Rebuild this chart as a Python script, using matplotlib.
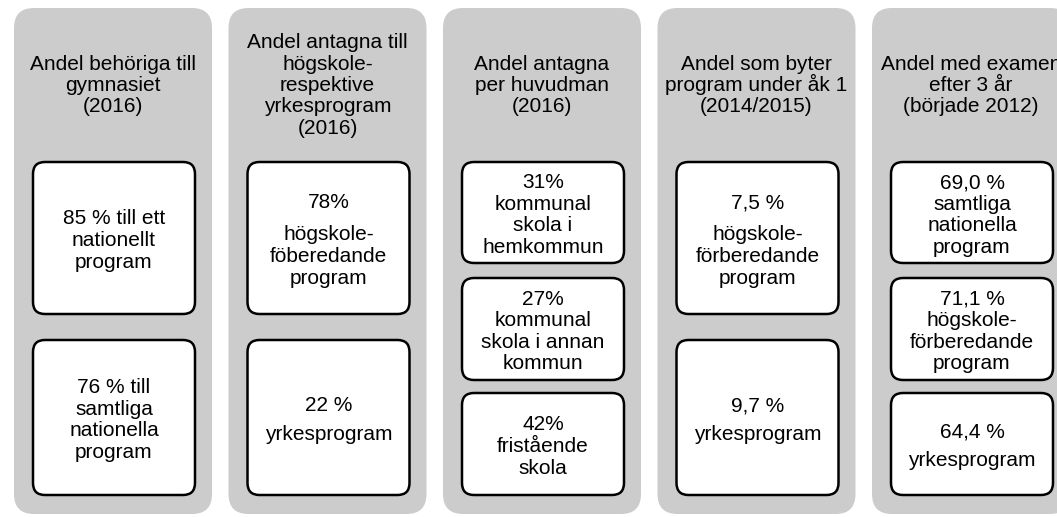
import matplotlib.pyplot as plt
from matplotlib.patches import FancyBboxPatch

# rubriker för varje kolumn
titles = [
    "Andel behöriga till\ngymnasiet\n(2016)",
    "Andel antagna till\nhögskole-\nrespektive\nyrkesprogram\n(2016)",
    "Andel antagna\nper huvudman\n(2016)",
    "Andel som byter\nprogram under åk 1\n(2014/2015)",
    "Andel med examen\nefter 3 år\n(började 2012)",
]

# rutornas texter per kolumn
boxes = [
    ["85 % till ett\nnationellt\nprogram", "76 % till\nsamtliga\nnationella\nprogram"],
    ["78%\nhögskole-\nföberedande\nprogram", "22 %\nyrkesprogram"],
    ["31%\nkommunal\nskola i\nhemkommun", "27%\nkommunal\nskola i annan\nkommun", "42%\nfristående\nskola"],
    ["7,5 %\nhögskole-\nförberedande\nprogram", "9,7 %\nyrkesprogram"],
    ["69,0 %\nsamtliga\nnationella\nprogram", "71,1 %\nhögskole-\nförberedande\nprogram", "64,4 %\nyrkesprogram"],
]

# extra avstånd efter första raden (px), 0 = vanligt radavstånd
first_gap = [[0, 0], [32, 29], [0, 0, 0], [32, 29], [0, 0, 29]]

FONT = "Liberation Sans"
FS = 15
PITCH = 21.5


def draw_lines(ax, cx, cy, txt, gap=0):
    lines = txt.split("\n")
    offs = [0.0]
    for k in range(1, len(lines)):
        step = gap if (k == 1 and gap) else PITCH
        offs.append(offs[-1] + step)
    top = cy - offs[-1] / 2
    for line, o in zip(lines, offs):
        ax.text(cx, top + o + 7, line, ha="center", va="baseline",
                fontsize=FS, family=FONT)


fig = plt.figure(figsize=(10.57, 5.17), dpi=100)
ax = fig.add_axes([0, 0, 1, 1])
ax.set_xlim(0, 1057)
ax.set_ylim(517, 0)
ax.axis("off")

panel_w = 198
for i, (title, items) in enumerate(zip(titles, boxes)):
    x0 = 14 + i * 214.5
    ax.add_patch(FancyBboxPatch((x0 + 20, 8 + 20), panel_w - 40, 506 - 40,
                                boxstyle="round,pad=20", fc="#cccccc", ec="none"))
    cx = x0 + panel_w / 2
    draw_lines(ax, cx, 84, title)

    if len(items) == 2:
        spans = [(162, 314), (340, 495)]
    else:
        spans = [(162, 263), (278, 380), (393, 495)]
    bx = x0 + 19
    bw = 162
    for txt, (y0, y1), g in zip(items, spans, first_gap[i]):
        r = 12
        ax.add_patch(FancyBboxPatch((bx + r, y0 + r), bw - 2 * r, y1 - y0 - 2 * r,
                                    boxstyle=f"round,pad={r}", fc="white",
                                    ec="black", lw=1.8))
        draw_lines(ax, bx + bw / 2, (y0 + y1) / 2 + 1, txt, g)

fig.savefig("out.png", dpi=100)
